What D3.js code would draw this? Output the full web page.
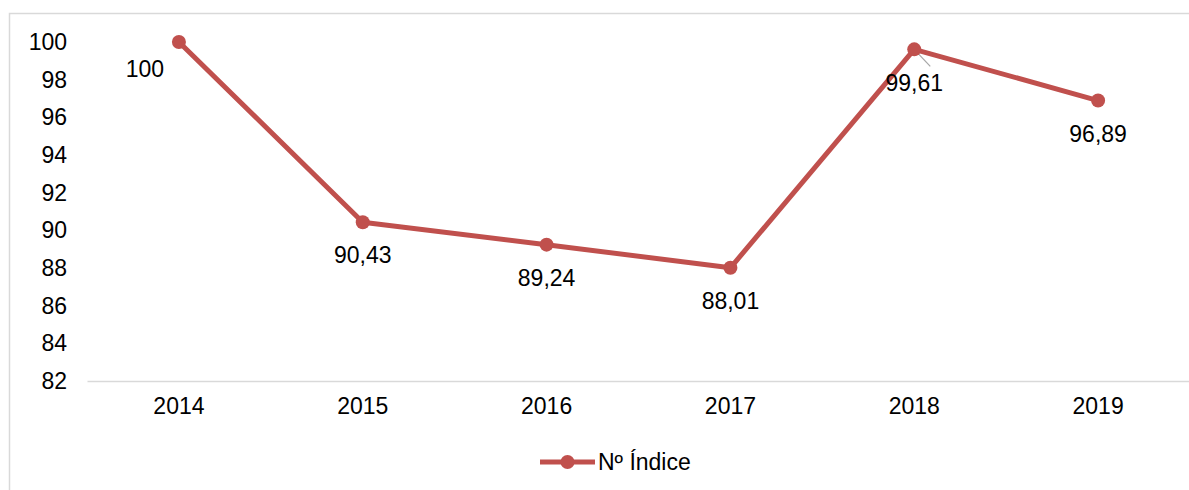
<!DOCTYPE html>
<html>
<head>
<meta charset="utf-8">
<script src="https://cdn.jsdelivr.net/npm/d3@7"></script>
<style>
  body { margin: 0; background: #fff; }
  text { font-family: "Liberation Sans", Arial, sans-serif; fill: #000; }
</style>
</head>
<body>
<div id="chart"></div>
<script>
// chart data
var years = ["2014", "2015", "2016", "2017", "2018", "2019"];
var values = [100, 90.43, 89.24, 88.01, 99.61, 96.89];
var yTicks = [82, 84, 86, 88, 90, 92, 94, 96, 98, 100];
var seriesName = "Nº Índice";

var color = "#c0504d";
var fontSize = "23px";
var W = 1189, H = 490;

var svg = d3.select("#chart").append("svg")
   .attr("width", W)
   .attr("height", H);

// outer frame (only top and left visible)
svg.append("rect")
   .attr("x", 9.5).attr("y", 13.5)
   .attr("width", W + 20).attr("height", H + 20)
   .attr("fill", "#fff")
   .attr("stroke", "#d9d9d9")
   .attr("stroke-width", 1.5);

var xScale = d3.scaleBand()
   .domain(years)
   .range([87, 1190]);

var yScale = d3.scaleLinear()
   .domain([82, 100])
   .range([381, 42]);

// x axis
var xAxis = svg.append("g")
   .attr("transform", "translate(0,381)")
   .call(d3.axisBottom(xScale).tickSize(0).tickPadding(17));
xAxis.select(".domain").attr("stroke", "#d9d9d9").attr("stroke-width", 1.5);
xAxis.selectAll("text")
   .style("font-size", fontSize)
   .attr("font-family", null);

// y axis
var yAxis = svg.append("g")
   .attr("transform", "translate(67,0)")
   .call(d3.axisLeft(yScale).tickValues(yTicks).tickSize(0).tickPadding(0));
yAxis.select(".domain").remove();
yAxis.selectAll("text")
   .style("font-size", fontSize)
   .attr("font-family", null);

var data = years.map(function (y, i) { return { year: y, value: values[i] }; });

var line = d3.line()
   .x(function (d) { return xScale(d.year) + xScale.bandwidth() / 2; })
   .y(function (d) { return yScale(d.value); });

svg.append("path")
   .datum(data)
   .attr("fill", "none")
   .attr("stroke", color)
   .attr("stroke-width", 5)
   .attr("stroke-linejoin", "round")
   .attr("d", line);

// leader line for 2018 label
var p18 = data[4];
svg.append("line")
   .attr("x1", xScale(p18.year) + xScale.bandwidth() / 2)
   .attr("y1", yScale(p18.value))
   .attr("x2", xScale(p18.year) + xScale.bandwidth() / 2 + 16)
   .attr("y2", yScale(p18.value) + 17)
   .attr("stroke", "#a6a6a6")
   .attr("stroke-width", 1.2);

svg.selectAll(".pt")
   .data(data)
   .enter().append("circle")
   .attr("class", "pt")
   .attr("cx", function (d) { return xScale(d.year) + xScale.bandwidth() / 2; })
   .attr("cy", function (d) { return yScale(d.value); })
   .attr("r", 7)
   .attr("fill", color);

// data labels, offsets relative to the point
var labelOffsets = [[-34, 27], [0, 33], [0, 33], [0, 33], [0, 34], [0, 33]];
svg.selectAll(".lbl")
   .data(data)
   .enter().append("text")
   .attr("class", "lbl")
   .attr("x", function (d, i) { return xScale(d.year) + xScale.bandwidth() / 2 + labelOffsets[i][0]; })
   .attr("y", function (d, i) { return yScale(d.value) + labelOffsets[i][1]; })
   .attr("text-anchor", "middle")
   .attr("dominant-baseline", "central")
   .style("font-size", fontSize)
   .text(function (d) { return String(d.value).replace(".", ","); });

// legend
var legend = svg.append("g").attr("transform", "translate(540,462)");
legend.append("line")
   .attr("x1", 0).attr("x2", 55)
   .attr("stroke", color)
   .attr("stroke-width", 5);
legend.append("circle")
   .attr("cx", 27.5).attr("r", 7)
   .attr("fill", color);
legend.append("text")
   .attr("x", 58)
   .attr("dominant-baseline", "central")
   .style("font-size", fontSize)
   .text(seriesName);
</script>
</body>
</html>
